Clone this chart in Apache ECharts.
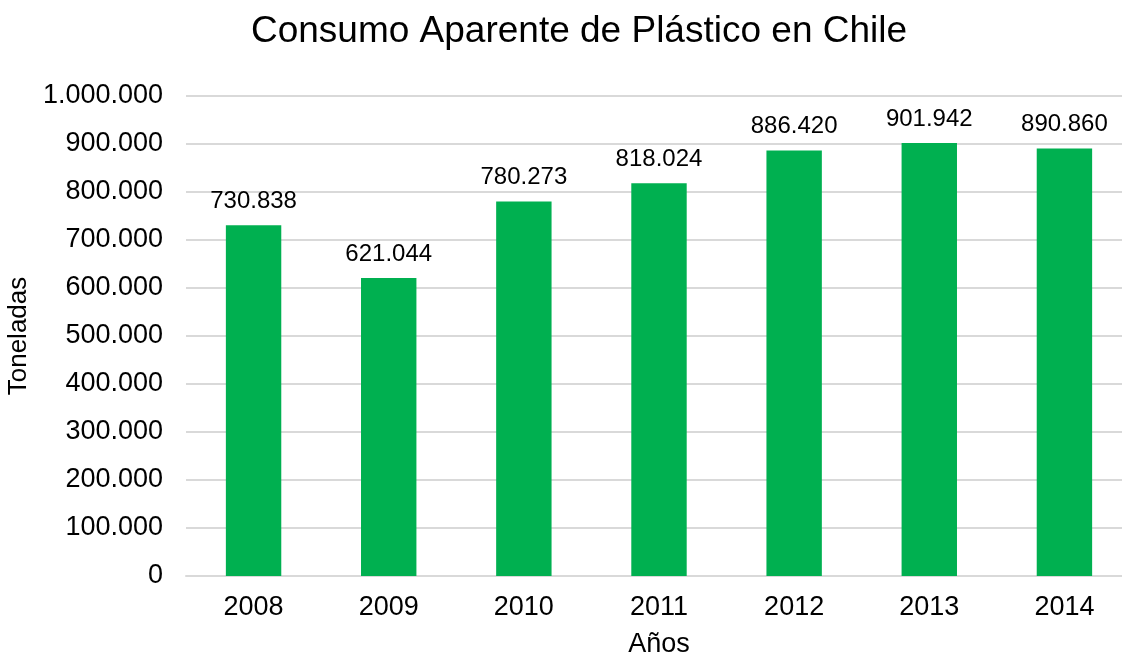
<!DOCTYPE html>
<html>
<head>
<meta charset="utf-8">
<script src="https://cdn.jsdelivr.net/npm/echarts@6/dist/echarts.min.js"></script>
<style>
  html, body { margin: 0; padding: 0; background: #fff; }
  #chart { width: 1122px; height: 656px; }
</style>
</head>
<body>
<div id="chart"></div>
<script>
const years = ['2008', '2009', '2010', '2011', '2012', '2013', '2014'];
const toneladas = [730838, 621044, 780273, 818024, 886420, 901942, 890860];

const FONT = '"Liberation Sans", Arial, sans-serif';

// miles con punto: 1.000.000
function fmt(val) {
  return String(Math.round(val)).replace(/\B(?=(\d{3})+(?!\d))/g, '.');
}

const chart = echarts.init(document.getElementById('chart'));

const option = {
  animation: false,
  backgroundColor: '#fff',
  title: {
    text: 'Consumo Aparente de Plástico en Chile',
    left: 579,
    top: 13,
    padding: 0,
    textAlign: 'center',
    textStyle: {
      fontFamily: FONT,
      fontSize: 37,
      fontWeight: 'normal',
      color: '#000'
    }
  },
  grid: {
    left: 186,
    top: 96,
    width: 946,
    height: 480,
    containLabel: false,
    outerBoundsMode: 'none'
  },
  xAxis: {
    type: 'category',
    data: years,
    name: 'Años',
    nameLocation: 'middle',
    nameGap: 55,
    nameTextStyle: {
      fontFamily: FONT,
      fontSize: 27,
      color: '#000'
    },
    axisLine: {
      lineStyle: { color: '#d9d9d9', width: 2 }
    },
    axisTick: { show: false },
    axisLabel: {
      margin: 18,
      fontFamily: FONT,
      fontSize: 27,
      color: '#000'
    }
  },
  yAxis: {
    type: 'value',
    min: 0,
    max: 1000000,
    interval: 100000,
    name: 'Toneladas',
    nameLocation: 'middle',
    nameGap: 145,
    nameTextStyle: {
      fontFamily: FONT,
      fontSize: 26,
      color: '#000'
    },
    axisLine: { show: false },
    axisTick: { show: false },
    axisLabel: {
      margin: 23,
      formatter: fmt,
      fontFamily: FONT,
      fontSize: 27,
      color: '#000'
    },
    splitLine: {
      lineStyle: { color: '#d9d9d9', width: 2 }
    }
  },
  series: [
    {
      type: 'bar',
      data: toneladas,
      barWidth: '41%',
      itemStyle: { color: '#00b050' },
      label: {
        show: true,
        position: 'top',
        distance: 12,
        formatter: p => fmt(p.value),
        fontFamily: FONT,
        fontSize: 24,
        color: '#000'
      }
    }
  ]
};

chart.setOption(option);
</script>
</body>
</html>
